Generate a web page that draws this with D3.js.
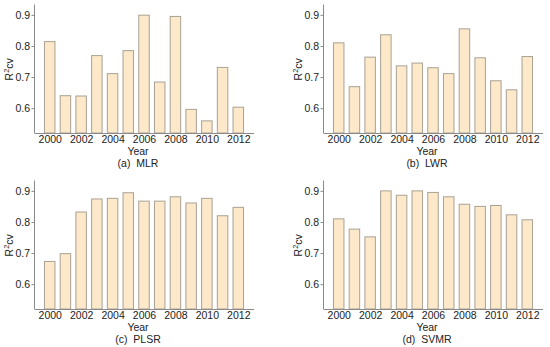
<!DOCTYPE html>
<html>
<head>
<meta charset="utf-8">
<script src="https://cdn.jsdelivr.net/npm/d3@7"></script>
<style>
  body { margin: 0; background: #fff; }
  svg { font-family: "Liberation Sans", Arial, sans-serif; }
</style>
</head>
<body>
<div id="chart"></div>
<script>
var years = [2000, 2001, 2002, 2003, 2004, 2005, 2006, 2007, 2008, 2009, 2010, 2011, 2012];
var tickYears = [2000, 2002, 2004, 2006, 2008, 2010, 2012];
var yTicks = [0.6, 0.7, 0.8, 0.9];

var mlr  = [0.814, 0.640, 0.639, 0.769, 0.711, 0.785, 0.899, 0.684, 0.895, 0.596, 0.559, 0.731, 0.603];
var lwr  = [0.810, 0.669, 0.764, 0.836, 0.736, 0.745, 0.730, 0.711, 0.855, 0.762, 0.688, 0.659, 0.766];
var plsr = [0.673, 0.698, 0.832, 0.874, 0.876, 0.894, 0.867, 0.867, 0.881, 0.861, 0.876, 0.820, 0.847];
var svmr = [0.810, 0.777, 0.752, 0.900, 0.886, 0.900, 0.895, 0.881, 0.857, 0.850, 0.853, 0.823, 0.807];

var panels = [
  {vals: mlr,  tag: "(a)", name: "MLR",  x: 34,  y: 4},
  {vals: lwr,  tag: "(b)", name: "LWR",  x: 323, y: 4},
  {vals: plsr, tag: "(c)", name: "PLSR", x: 34,  y: 180},
  {vals: svmr, tag: "(d)", name: "SVMR", x: 323, y: 180}
];

var W = 550, H = 347;
var pw = 220, ph = 129;

var svg = d3.select("#chart").append("svg")
    .attr("width", W)
    .attr("height", H);

var x = d3.scaleLinear().domain([1999, 2013]).range([0, pw]);
var y = d3.scaleLinear().domain([0.52, 0.935]).range([ph, 0]);
var barW = 10.5;

function drawPanel(p) {
  var g = svg.append("g").attr("transform", "translate(" + p.x + "," + p.y + ")");
  var rows = years.map(function(yr, i) { return {year: yr, v: p.vals[i]}; });

  g.selectAll("rect.bar").data(rows).enter().append("rect")
      .attr("class", "bar")
      .attr("x", function(d) { return x(d.year) - barW / 2; })
      .attr("y", function(d) { return y(d.v); })
      .attr("width", barW)
      .attr("height", function(d) { return ph - y(d.v); })
      .attr("fill", "#fde8c9")
      .attr("stroke", "#a8a294")
      .attr("stroke-width", 1);

  // y axis
  var ya = g.append("g").call(d3.axisLeft(y).tickValues(yTicks).tickSize(3).tickFormat(d3.format(".1f")));
  ya.select(".domain").attr("stroke", "#8a8a8a").attr("d", "M0.5," + ph + "V0.5");
  ya.selectAll(".tick line").attr("stroke", "#8a8a8a").attr("transform", "translate(0.5,0)");
  ya.selectAll(".tick text").attr("fill", "#222").attr("font-size", 10.5).attr("x", -4);

  // x axis
  var xa = g.append("g").attr("transform", "translate(0," + ph + ")")
      .call(d3.axisBottom(x).tickValues(tickYears).tickSize(0).tickFormat(d3.format("d")));
  xa.select(".domain").attr("stroke", "#8a8a8a").attr("d", "M0.5,0.5H" + pw);
  xa.selectAll(".tick text").attr("fill", "#222").attr("font-size", 10.5).attr("dy", "0.71em").attr("y", 3);

  g.append("text")
      .attr("x", pw / 2 - 6)
      .attr("y", ph + 22)
      .attr("text-anchor", "middle")
      .attr("font-size", 10.5)
      .attr("fill", "#222")
      .text("Year");

  g.append("text")
      .attr("x", pw / 2 - 6)
      .attr("y", ph + 34)
      .attr("text-anchor", "middle")
      .attr("font-size", 10.5)
      .attr("fill", "#222")
      .attr("xml:space", "preserve")
      .text(p.tag + "  " + p.name);

  var lab = g.append("text")
      .attr("transform", "translate(-21," + (y(0.725)) + ") rotate(-90)")
      .attr("text-anchor", "middle")
      .attr("font-size", 10.5)
      .attr("fill", "#222");
  lab.append("tspan").text("R");
  lab.append("tspan").attr("font-size", 7.5).attr("dy", -4).text("2");
  lab.append("tspan").attr("dy", 4).text("cv");
}

panels.forEach(drawPanel);
</script>
</body>
</html>
